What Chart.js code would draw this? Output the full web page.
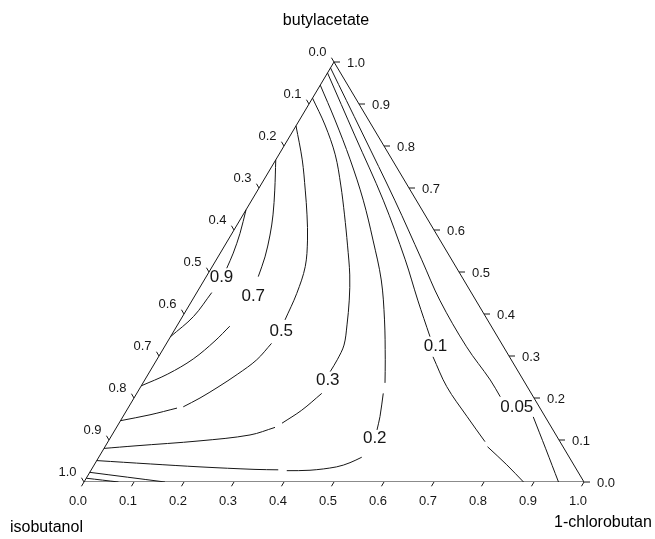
<!DOCTYPE html>
<html>
<head>
<meta charset="utf-8">
<script src="https://cdn.jsdelivr.net/npm/chart.js@4/dist/chart.umd.min.js"></script>
<style>
  html, body { margin: 0; padding: 0; background: #fff; }
  #wrap { width: 655px; height: 539px; }
</style>
</head>
<body>
<div id="wrap"><canvas id="chart" width="655" height="539"></canvas></div>
<script>
// Pure components at the corners: top, bottom-left, bottom-right
const cornerNames = ['butylacetate', 'isobutanol', '1-chlorobutan'];

// Mole-fraction ticks shared by the three sides
const tickValues = [0, 0.1, 0.2, 0.3, 0.4, 0.5, 0.6, 0.7, 0.8, 0.9, 1.0];
const tickLabels = ['0.0', '0.1', '0.2', '0.3', '0.4', '0.5', '0.6', '0.7', '0.8', '0.9', '1.0'];

// Contour levels, in drawing order
const contourLevels = ['0.9', '0.7', '0.5', '0.3', '0.2', '0.1', '0.05'];

// Each contour: list of segments, each a list of [x(1-chlorobutan), x(butylacetate)]
const contour090 = [
  [[0, 0.648], [0.016, 0.592], [0.026, 0.545], [0.031, 0.509]],
  [[0.030, 0.451], [0.022, 0.394], [0, 0.346]]
];
const contour070 = [
  [[0, 0.767], [0.034, 0.695], [0.060, 0.636], [0.078, 0.588], [0.094, 0.536], [0.104, 0.489]],
  [[0.106, 0.371], [0.094, 0.336], [0.072, 0.293], [0.039, 0.257], [0, 0.229]]
];
const contour050 = [
  [[0, 0.848], [0.053, 0.767], [0.095, 0.695], [0.128, 0.636], [0.159, 0.576], [0.186, 0.513], [0.201, 0.449], [0.209, 0.386]],
  [[0.210, 0.330], [0.200, 0.291], [0.179, 0.257], [0.155, 0.226], [0.132, 0.200], [0.109, 0.179]],
  [[0.098, 0.176], [0.052, 0.160], [0, 0.146]]
];
const contour030 = [
  [[0, 0.914], [0.057, 0.850], [0.113, 0.779], [0.160, 0.707], [0.203, 0.636], [0.245, 0.564], [0.285, 0.493], [0.314, 0.433], [0.339, 0.374], [0.357, 0.326], [0.361, 0.291], [0.361, 0.263]],
  [[0.370, 0.211], [0.350, 0.171], [0.326, 0.140]],
  [[0.317, 0.130], [0.276, 0.112], [0.183, 0.098], [0.059, 0.086], [0, 0.080]]
];
const contour020 = [
  [[0, 0.945], [0.071, 0.862], [0.149, 0.767], [0.223, 0.671], [0.290, 0.576], [0.354, 0.481], [0.408, 0.386], [0.457, 0.291], [0.484, 0.236]],
  [[0.493, 0.211], [0.514, 0.156], [0.524, 0.124]],
  [[0.526, 0.059], [0.509, 0.046], [0.487, 0.036], [0.438, 0.028], [0.392, 0.027]],
  [[0.374, 0.029], [0.327, 0.030], [0.214, 0.036], [0.111, 0.043], [0, 0.051]]
];
const contour010 = [
  [[0, 0.974], [0.130, 0.824], [0.263, 0.671], [0.378, 0.529], [0.451, 0.433], [0.519, 0.346]],
  [[0.549, 0.298], [0.612, 0.227], [0.688, 0.156], [0.754, 0.096]],
  [[0.765, 0.084], [0.825, 0.041], [0.879, 0]],
  [[0, 0.023], [0.162, 0]]
];
const contour005 = [
  [[0, 0.986], [0.141, 0.831], [0.286, 0.671], [0.411, 0.529], [0.495, 0.433], [0.604, 0.322], [0.691, 0.243], [0.731, 0.203]],
  [[0.821, 0.155], [0.884, 0.079], [0.949, 0]],
  [[0, 0.009], [0.069, 0]]
];
const contours = [contour090, contour070, contour050, contour030, contour020, contour010, contour005];

// Where each level's label sits, as [x(1-chlorobutan), x(butylacetate)]
const contourLabelAt = [
  [0.031, 0.488], [0.118, 0.441], [0.215, 0.359], [0.367, 0.241],
  [0.529, 0.105], [0.541, 0.324], [0.777, 0.177]
];

// Triangle outline: isobutanol, 1-chlorobutan, butylacetate corners
const frame = [[0, 0], [1, 0], [0, 1], [0, 0]];

// Ternary composition -> cartesian plot coordinates
const toXY = ([c, b]) => ({ x: c + b / 2, y: b });

const INK = '#161616';
const FONT = '"Liberation Sans", Arial, sans-serif';

const datasets = [{
  data: frame.map(toXY),
  showLine: true, borderColor: INK, borderWidth: 1, pointRadius: 0, tension: 0
}];
contours.forEach((segs, i) => {
  segs.forEach(seg => {
    datasets.push({
      label: contourLevels[i],
      data: seg.map(toXY),
      showLine: true, borderColor: INK, borderWidth: 1, pointRadius: 0, tension: 0.35
    });
  });
});

// Axis ticks, tick labels, contour labels and component names
const ternaryDecor = {
  id: 'ternaryDecor',
  afterDatasetsDraw(chart) {
    const { ctx, scales: { x, y } } = chart;
    const P = (c, b) => [x.getPixelForValue(c + b / 2), y.getPixelForValue(b)];
    const A = P(0, 0), B = P(1, 0), T = P(0, 1);
    const unit = (p, q) => { const dx = q[0] - p[0], dy = q[1] - p[1], l = Math.hypot(dx, dy); return [dx / l, dy / l]; };
    const uLeft = unit(T, A);   // down-left, parallel to left side
    const uRight = unit(T, B);  // down-right, parallel to right side
    const len = 5;

    ctx.save();
    ctx.strokeStyle = INK;
    ctx.fillStyle = INK;
    ctx.lineWidth = 1;
    ctx.font = '13px ' + FONT;

    tickValues.forEach((v, i) => {
      // bottom side: 1-chlorobutan fraction
      let p = P(v, 0);
      ctx.beginPath(); ctx.moveTo(p[0], p[1]); ctx.lineTo(p[0] + uLeft[0] * len, p[1] + uLeft[1] * len); ctx.stroke();
      ctx.textAlign = 'center'; ctx.textBaseline = 'middle';
      ctx.fillText(tickLabels[i], p[0] - 6, p[1] + 19);

      // right side: butylacetate fraction
      p = P(1 - v, v);
      ctx.beginPath(); ctx.moveTo(p[0], p[1]); ctx.lineTo(p[0] + 6, p[1]); ctx.stroke();
      ctx.textAlign = 'left';
      ctx.fillText(tickLabels[i], p[0] + 13, p[1] + 1);

      // left side: isobutanol fraction
      p = P(0, 1 - v);
      ctx.beginPath(); ctx.moveTo(p[0], p[1]); ctx.lineTo(p[0] - uRight[0] * len, p[1] - uRight[1] * len); ctx.stroke();
      ctx.textAlign = 'center';
      ctx.fillText(tickLabels[i], p[0] - 16.5, p[1] - 9.3);
    });

    // contour level labels
    ctx.font = '17px ' + FONT;
    ctx.textAlign = 'center'; ctx.textBaseline = 'middle';
    contourLabelAt.forEach((cb, i) => {
      const p = P(cb[0], cb[1]);
      ctx.fillText(contourLevels[i], p[0], p[1]);
    });

    // component names
    ctx.font = '16px ' + FONT;
    ctx.fillStyle = '#000';
    ctx.textAlign = 'center';
    ctx.fillText(cornerNames[0], T[0] - 8, 21);
    ctx.textAlign = 'left';
    ctx.fillText(cornerNames[1], A[0] - 74, A[1] + 46);
    ctx.fillText(cornerNames[2], B[0] - 30, B[1] + 41);
    ctx.restore();
  }
};

new Chart(document.getElementById('chart'), {
  type: 'scatter',
  data: { datasets },
  options: {
    responsive: false,
    animation: false,
    devicePixelRatio: 1,
    layout: { padding: { left: 84, right: 71, top: 62, bottom: 57 } },
    scales: {
      x: { type: 'linear', min: 0, max: 1, display: false },
      y: { type: 'linear', min: 0, max: 1, display: false }
    },
    plugins: { legend: { display: false }, tooltip: { enabled: false } }
  },
  plugins: [ternaryDecor]
});
</script>
</body>
</html>
